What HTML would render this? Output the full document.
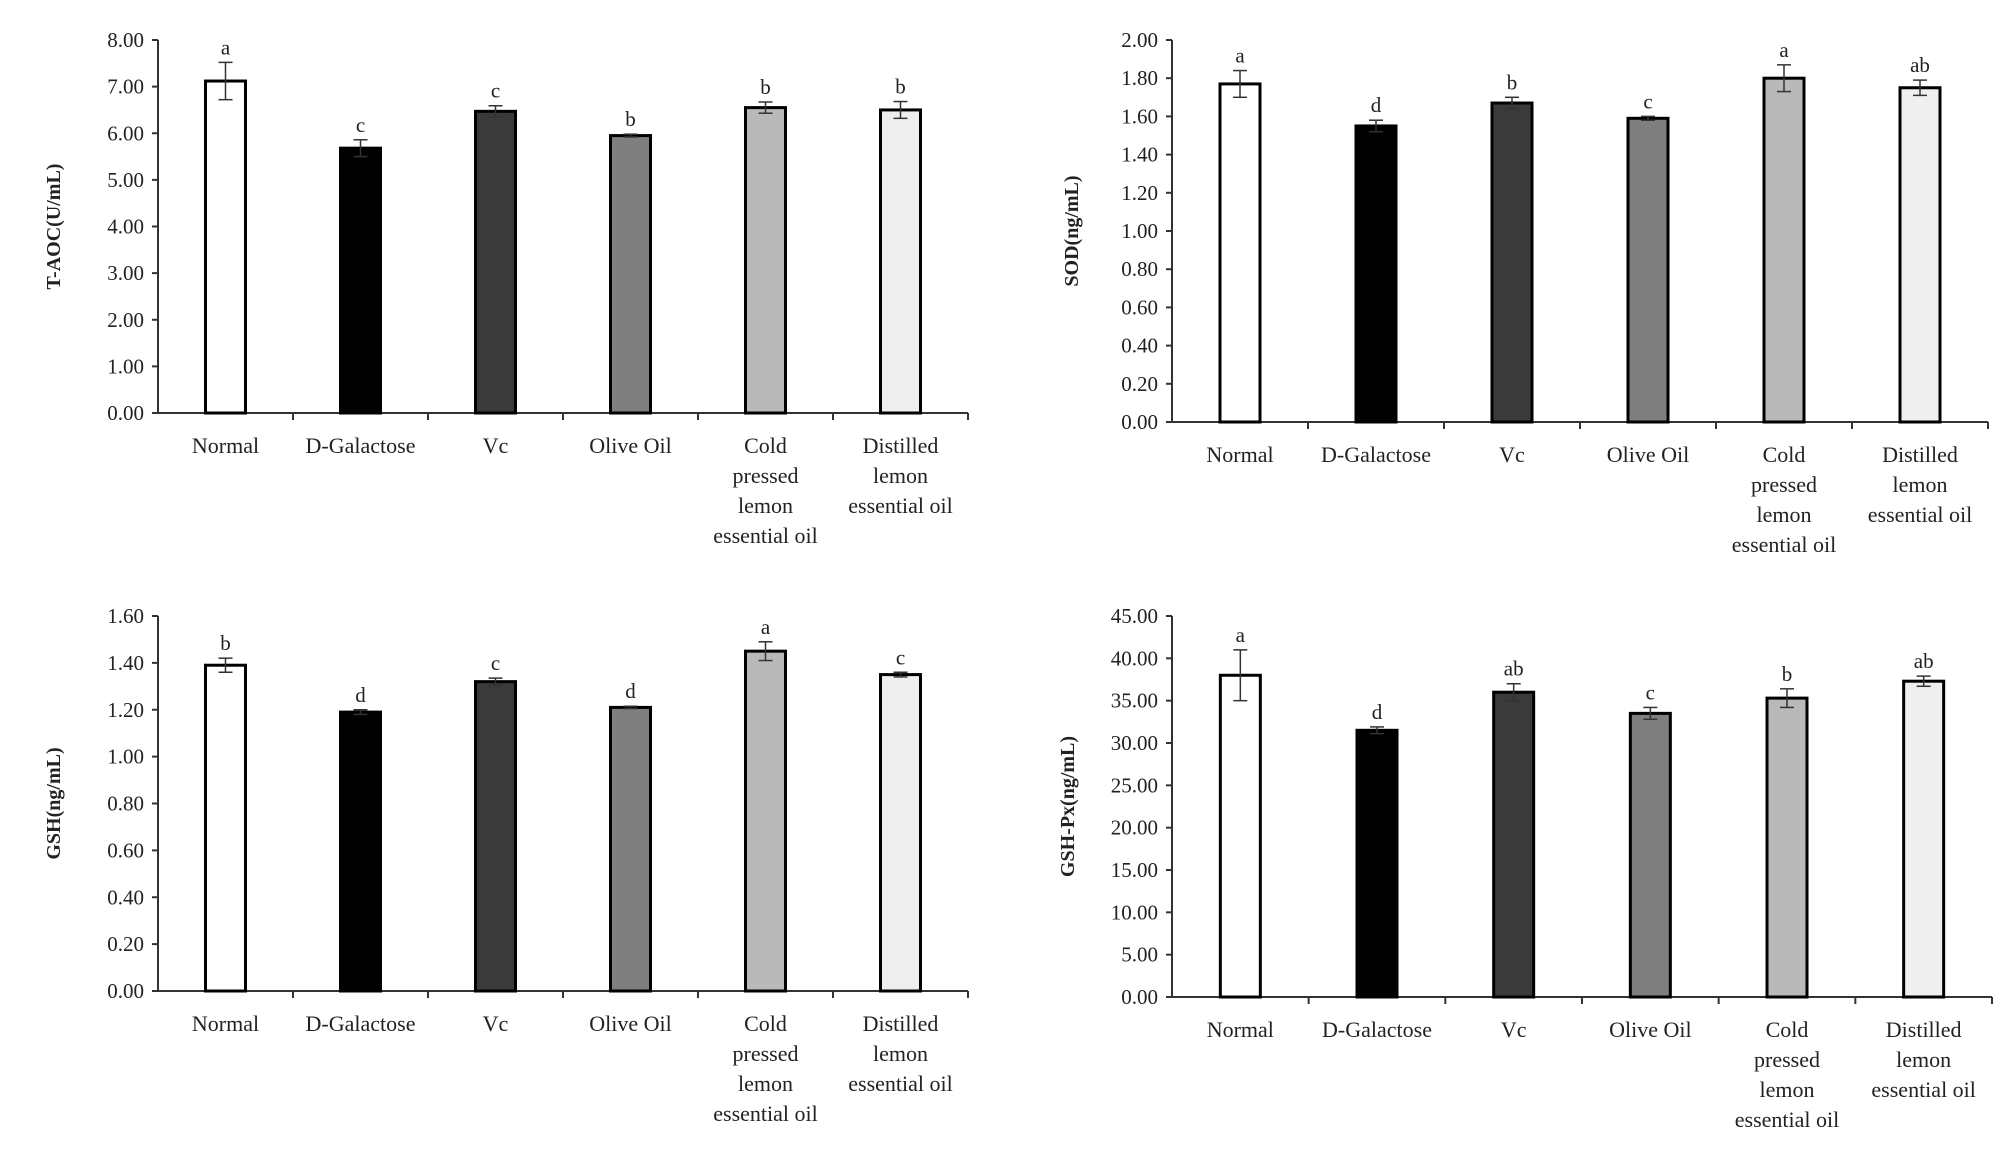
<!DOCTYPE html>
<html><head><meta charset="utf-8"><style>
html,body{margin:0;padding:0;background:#fff;}
svg{display:block;}
text{font-family:"Liberation Serif",serif;fill:#222;}
</style></head><body>
<svg id="fig" width="2008" height="1149" viewBox="0 0 2008 1149" xmlns="http://www.w3.org/2000/svg"></svg>
<script>
const categories=[["Normal"],["D-Galactose"],["Vc"],["Olive Oil"],["Cold","pressed","lemon","essential oil"],["Distilled","lemon","essential oil"]];
const taocValues=[7.12,5.68,6.47,5.95,6.55,6.50];
const taocErrors=[0.40,0.18,0.12,0.03,0.12,0.18];
const taocLetters=["a","c","c","b","b","b"];
const sodValues=[1.77,1.55,1.67,1.59,1.80,1.75];
const sodErrors=[0.07,0.03,0.03,0.01,0.07,0.04];
const sodLetters=["a","d","b","c","a","ab"];
const gshValues=[1.39,1.19,1.32,1.21,1.45,1.35];
const gshErrors=[0.03,0.01,0.015,0.005,0.04,0.01];
const gshLetters=["b","d","c","d","a","c"];
const gshpxValues=[38.0,31.5,36.0,33.5,35.3,37.3];
const gshpxErrors=[3.0,0.4,1.0,0.7,1.1,0.6];
const gshpxLetters=["a","d","ab","c","b","ab"];
const taocTicks=[0,1,2,3,4,5,6,7,8];
const sodTicks=[0,0.2,0.4,0.6,0.8,1.0,1.2,1.4,1.6,1.8,2.0];
const gshTicks=[0,0.2,0.4,0.6,0.8,1.0,1.2,1.4,1.6];
const gshpxTicks=[0,5,10,15,20,25,30,35,40,45];
const fills=["#ffffff","#000000","#3a3a3a","#7f7f7f","#b9b9b9","#efefef"];
const NS="http://www.w3.org/2000/svg";
const svg=document.getElementById('fig');
function mk(tag,attrs,parent){const e=document.createElementNS(NS,tag);for(const k in attrs)e.setAttribute(k,attrs[k]);parent.appendChild(e);return e;}
function chart(id,L,R,T,B,ticks,vals,errs,letters,title,titleX){
  const g=mk('g',{},svg);
  
  
  const max=ticks[ticks.length-1];
  const y=v=>B-(v/max)*(B-T);
  const step=(R-L)/categories.length;
  const x=i=>L+step*(i+0.5);
  const ax=mk('g',{},g);
  
  
  mk('line',{x1:L,y1:T,x2:L,y2:B,stroke:'#333','stroke-width':2},ax);
  mk('line',{x1:L,y1:B,x2:R,y2:B,stroke:'#333','stroke-width':2},ax);
  ticks.forEach(t=>{
    mk('line',{x1:L-6,y1:y(t),x2:L,y2:y(t),stroke:'#333','stroke-width':2},ax);
    const tx=mk('text',{x:L-14,y:y(t)+7,'text-anchor':'end','font-size':21},ax);
    tx.textContent=t.toFixed(2);
    
    
  });
  for(let i=1;i<=categories.length;i++){mk('line',{x1:L+step*i,y1:B,x2:L+step*i,y2:B+7,stroke:'#333','stroke-width':2},ax);}
  vals.forEach((v,i)=>{
    const bw=40;
    const r=mk('rect',{x:x(i)-bw/2,y:y(v),width:bw,height:B-y(v),fill:fills[i],stroke:'#000','stroke-width':3},g);
    
    
    const e=errs[i];
    const eb=mk('g',{stroke:'#333','stroke-width':1.5},g);
    
    
    mk('line',{x1:x(i),y1:y(v+e),x2:x(i),y2:y(v-e)},eb);
    mk('line',{x1:x(i)-7,y1:y(v+e),x2:x(i)+7,y2:y(v+e)},eb);
    mk('line',{x1:x(i)-7,y1:y(v-e),x2:x(i)+7,y2:y(v-e)},eb);
    const lt=mk('text',{x:x(i),y:y(v+e)-8,'text-anchor':'middle','font-size':21},g);
    lt.textContent=letters[i];
    
    
    categories[i].forEach((line,j)=>{
      const ct=mk('text',{x:x(i),y:B+40+j*30,'text-anchor':'middle','font-size':22},g);
      ct.textContent=line;
      
      
    });
  });
  const cy=(T+B)/2;
  const tt=mk('text',{x:titleX,y:cy,'text-anchor':'middle','font-size':20,'font-weight':'bold',transform:`rotate(-90 ${titleX} ${cy})`},g);
  tt.textContent=title;
  
  
}
chart('taoc',158,968,40,413,taocTicks,taocValues,taocErrors,taocLetters,'T-AOC(U/mL)',60);
chart('sod',1172,1988,40,422,sodTicks,sodValues,sodErrors,sodLetters,'SOD(ng/mL)',1078);
chart('gsh',158,968,616,991,gshTicks,gshValues,gshErrors,gshLetters,'GSH(ng/mL)',60);
chart('gshpx',1172,1992,616,997,gshpxTicks,gshpxValues,gshpxErrors,gshpxLetters,'GSH-Px(ng/mL)',1074);
</script>
</body></html>
